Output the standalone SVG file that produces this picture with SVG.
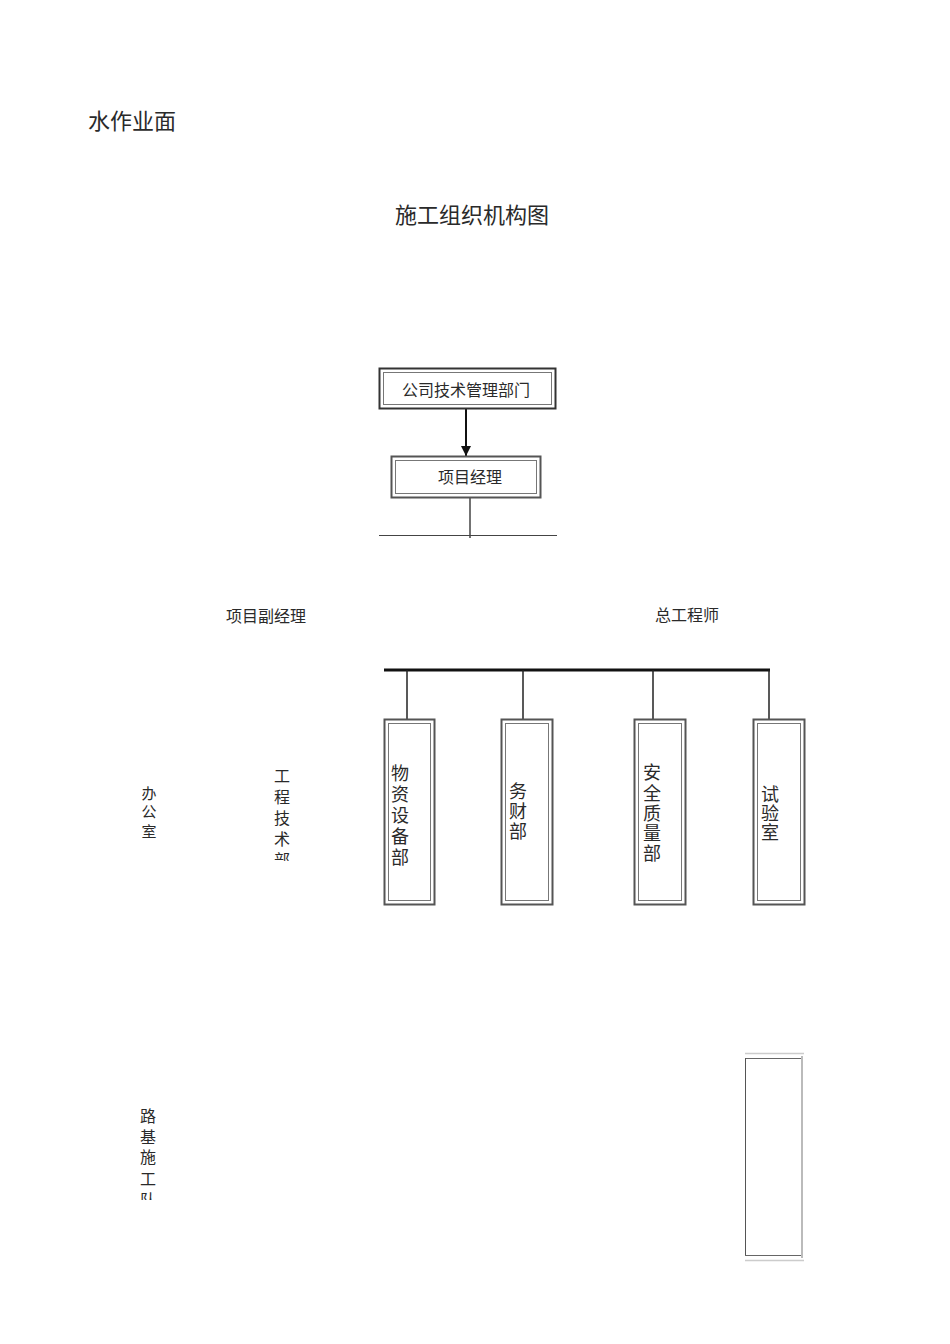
<svg xmlns="http://www.w3.org/2000/svg" width="950" height="1344" viewBox="0 0 950 1344">
<style>
text{font-family:"Noto Sans CJK SC","Noto Sans",sans-serif;fill:#2a2a2a}
.t{font-size:22px}
.l{font-size:16px}
.v{font-size:18px;text-anchor:middle}
.s{font-size:16px;text-anchor:middle}
.o{font-size:15px;text-anchor:middle}
.ob{fill:#fff;stroke:#555;stroke-width:2}
.ib{fill:none;stroke:#777;stroke-width:1}
.ln{stroke:#222;stroke-width:1.5;fill:none}
</style>
<defs>
<marker id="ah" markerWidth="10" markerHeight="10" refX="10" refY="5" orient="auto" markerUnits="userSpaceOnUse" viewBox="0 0 10 10">
<path d="M0,0 L10,5 L0,10 z" fill="#111"/>
</marker>
<clipPath id="c1"><rect x="260" y="755" width="40" height="106"/></clipPath>
<clipPath id="c2"><rect x="125" y="1100" width="40" height="100"/></clipPath>
</defs>
<rect width="950" height="1344" fill="#fff"/>
<text class="t" x="88" y="129">水作业面</text>
<text class="t" x="395" y="223">施工组织机构图</text>
<g id="connectors">
<line x1="466" y1="408" x2="466" y2="456" stroke="#111" stroke-width="2" marker-end="url(#ah)"/>
<line x1="470" y1="497" x2="470" y2="538" stroke="#444" stroke-width="1.5"/>
<line x1="379" y1="535.5" x2="557" y2="535.5" stroke="#444" stroke-width="1.2"/>
<line x1="384" y1="670" x2="770" y2="670" stroke="#111" stroke-width="3"/>
<line class="ln" x1="407" y1="670" x2="407" y2="719"/>
<line class="ln" x1="523" y1="670" x2="523" y2="719"/>
<line class="ln" x1="653" y1="670" x2="653" y2="719"/>
<line class="ln" x1="769" y1="670" x2="769" y2="719"/>
</g>
<g id="n-company">
<rect x="379.5" y="368.5" width="176" height="40" fill="#fff" stroke="#333" stroke-width="2"/>
<rect x="383.5" y="372.5" width="168" height="32" class="ib"/>
<text class="l" x="402" y="396">公司技术管理部门</text>
</g>
<g id="n-pm">
<rect x="391.5" y="456.5" width="149" height="41" fill="#fff" stroke="#555" stroke-width="2"/>
<rect x="395.5" y="460.5" width="141" height="33" class="ib"/>
<text class="l" x="438" y="483">项目经理</text>
</g>
<g id="n-deputy"><text class="l" x="226" y="622">项目副经理</text></g>
<g id="n-chief"><text class="l" x="655" y="621">总工程师</text></g>
<g id="n-office">
<text class="o" x="149" y="799">办</text>
<text class="o" x="149" y="817">公</text>
<text class="o" x="149" y="837">室</text>
</g>
<g id="n-tech" clip-path="url(#c1)">
<text class="s" x="282" y="782">工</text>
<text class="s" x="282" y="803">程</text>
<text class="s" x="282" y="824">技</text>
<text class="s" x="282" y="845">术</text>
<text class="s" x="282" y="866">部</text>
</g>
<g id="n-material">
<rect x="384.5" y="719.5" width="50" height="185" class="ob"/>
<rect x="388.5" y="723.5" width="42" height="177" class="ib"/>
<text class="v" x="400" y="780">物</text>
<text class="v" x="400" y="801">资</text>
<text class="v" x="400" y="822">设</text>
<text class="v" x="400" y="843">备</text>
<text class="v" x="400" y="864">部</text>
</g>
<g id="n-finance">
<rect x="501.5" y="719.5" width="51" height="185" class="ob"/>
<rect x="505.5" y="723.5" width="43" height="177" class="ib"/>
<text class="v" x="518" y="798">务</text>
<text class="v" x="518" y="818">财</text>
<text class="v" x="518" y="838">部</text>
</g>
<g id="n-safety">
<rect x="634.5" y="719.5" width="51" height="185" class="ob"/>
<rect x="638.5" y="723.5" width="43" height="177" class="ib"/>
<text class="v" x="652" y="779">安</text>
<text class="v" x="652" y="800">全</text>
<text class="v" x="652" y="820">质</text>
<text class="v" x="652" y="840">量</text>
<text class="v" x="652" y="860">部</text>
</g>
<g id="n-lab">
<rect x="753.5" y="719.5" width="51" height="185" class="ob"/>
<rect x="757.5" y="723.5" width="43" height="177" class="ib"/>
<text class="v" x="770" y="801">试</text>
<text class="v" x="770" y="820">验</text>
<text class="v" x="770" y="839">室</text>
</g>
<g id="n-roadbed" clip-path="url(#c2)">
<text class="s" x="148" y="1122">路</text>
<text class="s" x="148" y="1143">基</text>
<text class="s" x="148" y="1163">施</text>
<text class="s" x="148" y="1185">工</text>
<text class="s" x="148" y="1206">队</text>
</g>
<g id="n-box">
<line x1="745" y1="1053.5" x2="804" y2="1053.5" stroke="#ccc" stroke-width="1.5"/>
<line x1="745" y1="1058.5" x2="803" y2="1058.5" stroke="#666" stroke-width="1"/>
<line x1="745.5" y1="1058" x2="745.5" y2="1256" stroke="#555" stroke-width="1"/>
<line x1="745" y1="1255.5" x2="803" y2="1255.5" stroke="#666" stroke-width="1"/>
<line x1="745" y1="1260.5" x2="804" y2="1260.5" stroke="#ccc" stroke-width="1.5"/>
<line x1="802" y1="1056" x2="802" y2="1258" stroke="#bbb" stroke-width="2"/>
</g>
</svg>
